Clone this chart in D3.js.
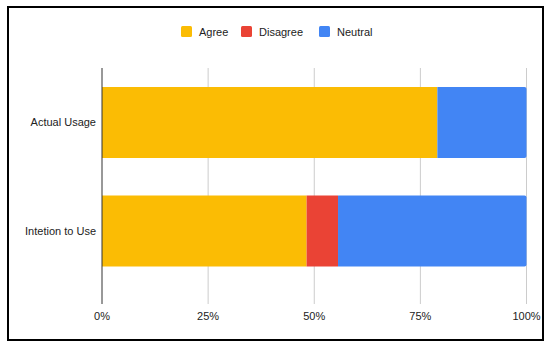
<!DOCTYPE html>
<html><head><meta charset="utf-8">
<script src="https://cdn.jsdelivr.net/npm/d3@7"></script>
<style>body{margin:0;background:#fff}svg{display:block;font-family:Arial,"Liberation Sans",sans-serif}</style>
</head><body>
<svg id="c" width="550" height="345"></svg>
<script>
const categories = ["Actual Usage", "Intetion to Use"];
const seriesNames = ["Agree", "Disagree", "Neutral"];
const seriesColors = ["#FBBC04", "#EA4335", "#4285F4"];
const agree = [79, 48.2];
const disagree = [0, 7.4];
const neutral = [21, 44.4];
const tickValues = [0, 0.25, 0.5, 0.75, 1];
const tickLabels = ["0%", "25%", "50%", "75%", "100%"];

(function () {
const svg = d3.select("#c");
svg.append("rect").attr("x", 8).attr("y", 7).attr("width", 535).attr("height", 333)
  .attr("fill", "#fff").attr("stroke", "#000").attr("stroke-width", 2);

const pLeft = 102, pRight = 526.5, pTop = 68, pBottom = 304;
const x = d3.scaleLinear().domain([0, 1]).range([pLeft, pRight]);
const y = d3.scaleBand().domain(categories).range([pTop, pBottom])
  .paddingInner(0.346).paddingOuter(0.26).align(0.336);

// gridlines
svg.append("g").selectAll("line").data(tickValues.slice(1)).join("line")
  .attr("x1", d => x(d)).attr("x2", d => x(d)).attr("y1", pTop).attr("y2", pBottom)
  .attr("stroke", "#ccc").attr("stroke-width", 1);

const rows = categories.map((c, i) => {
  const vals = [agree[i], disagree[i], neutral[i]];
  const tot = d3.sum(vals);
  let acc = 0;
  return vals.map((v, k) => { const s = acc / tot; acc += v; return {cat: c, k, x0: s, x1: acc / tot}; })
    .filter(d => d.x1 > d.x0);
});

const g = svg.append("g");
rows.forEach(segs => {
  segs.forEach((d, j) => {
    const x0 = x(d.x0), x1 = x(d.x1), y0 = y(d.cat), h = y.bandwidth();
    const last = j === segs.length - 1;
    const r = last ? 2 : 0;
    const p = `M${x0},${y0}H${x1 - r}Q${x1},${y0} ${x1},${y0 + r}V${y0 + h - r}Q${x1},${y0 + h} ${x1 - r},${y0 + h}H${x0}Z`;
    g.append("path").attr("d", p).attr("fill", seriesColors[d.k]);
  });
});

// zero axis line
svg.append("line").attr("x1", x(0)).attr("x2", x(0)).attr("y1", pTop).attr("y2", pBottom)
  .attr("stroke", "#333").attr("stroke-width", 1);

// x tick labels
svg.append("g").selectAll("text").data(tickValues).join("text")
  .attr("x", d => x(d)).attr("y", 320).attr("text-anchor", "middle")
  .attr("font-size", 11).attr("fill", "#222").text((d, i) => tickLabels[i]);

// y labels
svg.append("g").selectAll("text").data(categories).join("text")
  .attr("x", 96).attr("y", d => y(d) + y.bandwidth() / 2 + 4).attr("text-anchor", "end")
  .attr("font-size", 11).attr("fill", "#222").text(d => d);

// legend
const legX = [181, 241, 319];
const lg = svg.append("g");
seriesNames.forEach((s, i) => {
  lg.append("rect").attr("x", legX[i]).attr("y", 26).attr("width", 11).attr("height", 11)
    .attr("rx", 1.5).attr("fill", seriesColors[i]);
  lg.append("text").attr("x", legX[i] + 18).attr("y", 35.5).attr("font-size", 11)
    .attr("fill", "#222").text(s);
});
})();
</script>
</body></html>
